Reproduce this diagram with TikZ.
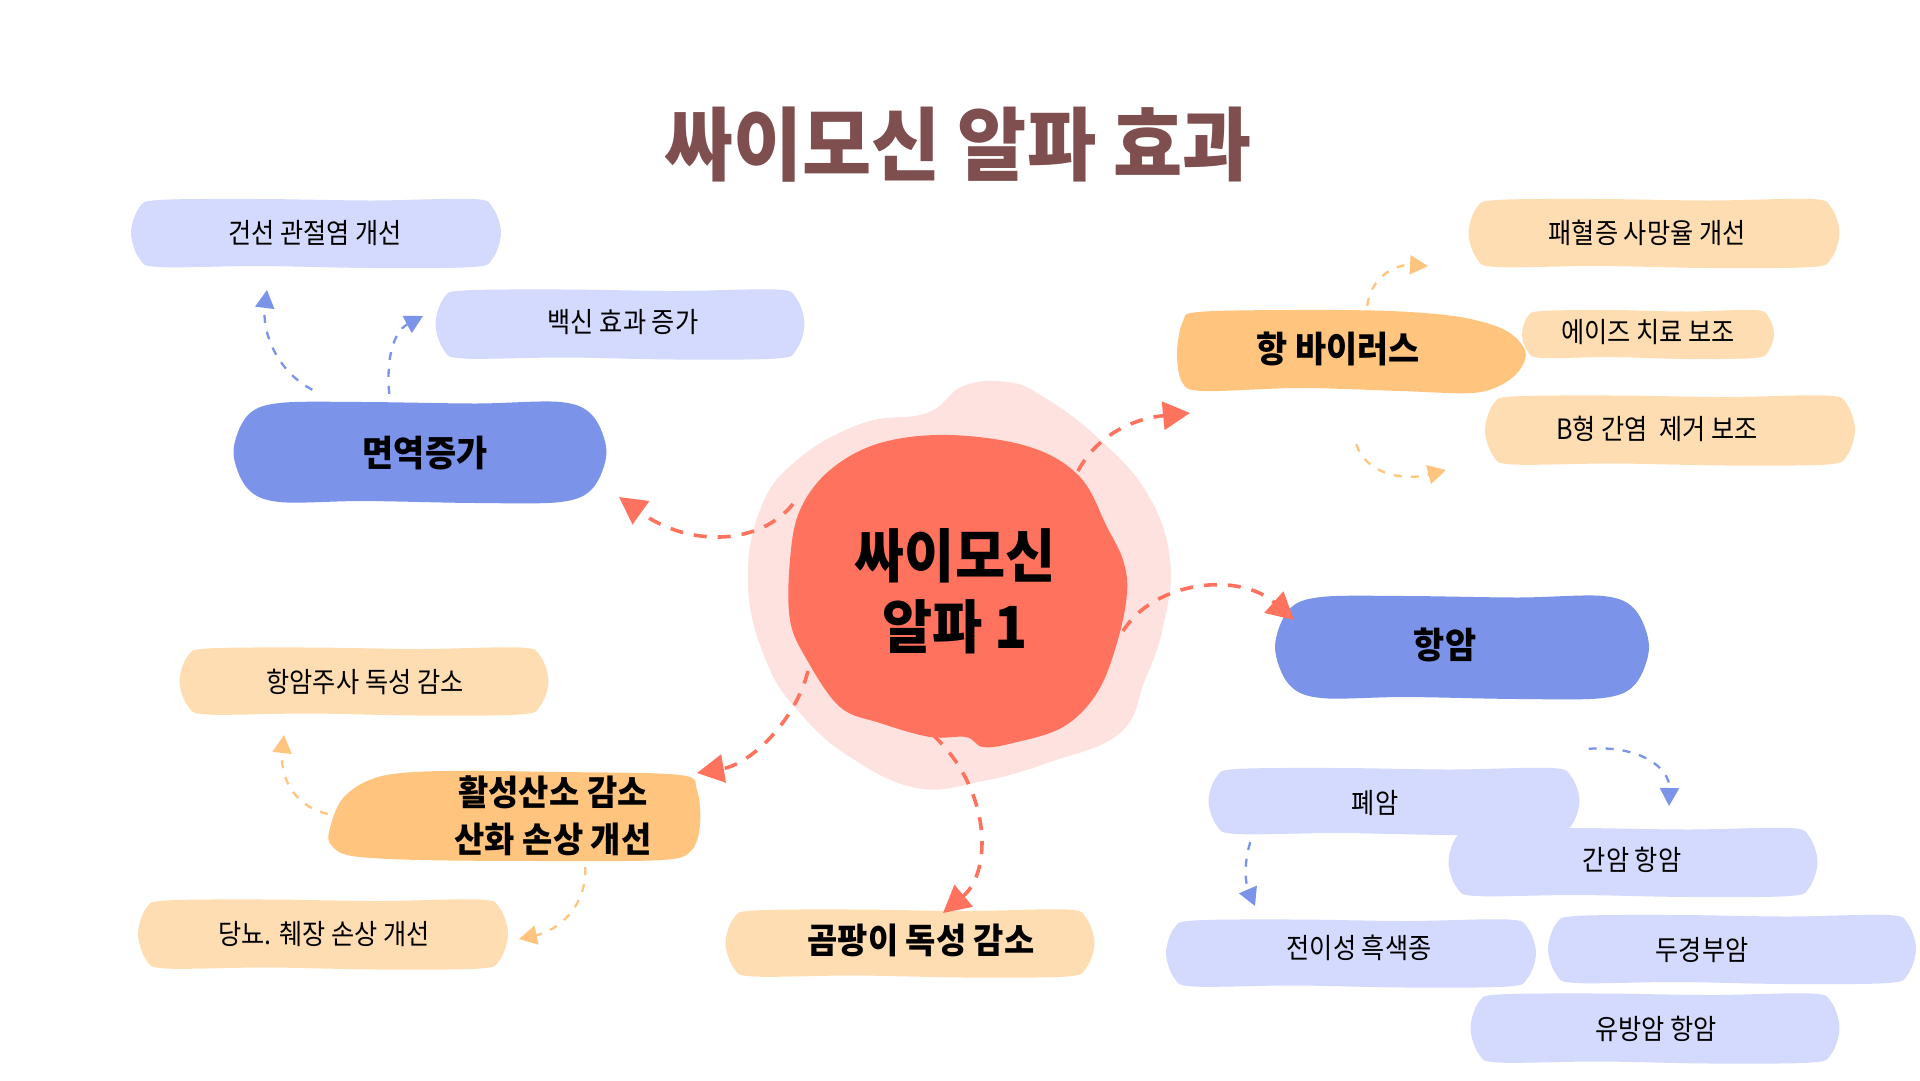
\documentclass[tikz,border=0pt]{standalone}
\usepackage{fontspec}
\usetikzlibrary{arrows.meta}
\newfontfamily\krR{Noto Sans CJK KR}[FakeStretch=0.9]
\newfontfamily\krB{Noto Sans CJK KR}[FakeStretch=0.94]
\definecolor{pale}{HTML}{FEE2DF}
\definecolor{coral}{HTML}{FF735E}
\definecolor{blueA}{HTML}{7B93E8}
\definecolor{lav}{HTML}{D3DAFD}
\definecolor{orng}{HTML}{FFC57E}
\definecolor{peach}{HTML}{FFDDB3}
\definecolor{titlec}{HTML}{7F4E4E}
% name, colour, cx, cy, w, h, corner
\newcommand\brushbox[7]{%
 \pgfmathsetmacro\bxL{#3-#5/2}\pgfmathsetmacro\bxR{#3+#5/2}%
 \pgfmathsetmacro\bxT{#4-#6/2}\pgfmathsetmacro\bxB{#4+#6/2}%
 \node[inner sep=0pt, minimum width=#5pt, minimum height=#6pt] (#1) at (#3,#4) {};
 \fill[#2] plot[smooth cycle, tension=0.55] coordinates {({\bxL+#7},{\bxT+1}) ({\bxL+0.35*#5},{\bxT}) ({\bxR-0.35*#5},{\bxT+1.5}) ({\bxR-#7},{\bxT}) ({\bxR-0.3*#7},{\bxT+0.3*#7}) (\bxR,#4) ({\bxR-0.3*#7},{\bxB-0.3*#7}) ({\bxR-#7},\bxB) ({\bxR-0.35*#5},{\bxB+1}) ({\bxL+0.35*#5},{\bxB-1}) ({\bxL+#7},\bxB) ({\bxL+0.3*#7},{\bxB-0.3*#7}) (\bxL,#4) ({\bxL+0.3*#7},{\bxT+0.3*#7})};
}
\begin{document}
\begin{tikzpicture}[x=1pt,y=-1pt,
  reg/.style={font=\krR\fontsize{28}{32}\selectfont, text=black},
  bld/.style={font=\krB\bfseries\fontsize{36}{47}\selectfont, text=black, align=center},
  sub/.style={dash pattern=on 8pt off 9pt, line width=2.3pt, -{Triangle[length=18pt,width=19pt]}},
  mainln/.style={draw=coral, dash pattern=on 13pt off 11pt, line width=3.6pt, -{Triangle[length=27pt,width=28pt]}}
]
\useasboundingbox (0,0) rectangle (1920,1080);
\fill[white] (0,0) rectangle (1920,1080);

% central blobs
\fill[pale] plot[smooth cycle, tension=0.7] coordinates {(927,413) (963,386) (1007,382) (1042,396) (1097,437) (1147,493) (1170,560) (1163,627) (1145,680) (1120,733) (1050,762) (983,781) (917,788) (850,757) (800,713) (767,663) (748,587) (760,510) (797,460) (863,423)};
\fill[coral] plot[smooth cycle, tension=0.6] coordinates {(950,435) (1030,447) (1080,477) (1107,527) (1123,560) (1127,593) (1117,643) (1097,693) (1063,727) (1013,743) (983,747) (966,737) (930,737) (880,723) (840,707) (807,660) (790,620) (790,560) (800,510) (830,470) (880,443)};

% title
\node[font=\krB\bfseries\fontsize{80}{90}\selectfont, text=titlec] (title) at (958,145) {싸이모신 알파 효과};

% boxes
\brushbox{psor}{lav}{316}{233}{370}{68}{28}
\brushbox{vacc}{lav}{620}{324}{369}{69}{28}
\brushbox{immune}{blueA}{420}{452}{373}{100}{46}

\node[inner sep=0pt, minimum width=351pt, minimum height=82pt] (antivir) at (1351,351) {};
\fill[orng] plot[smooth cycle, tension=0.55] coordinates {(1198,312) (1290,310) (1390,311) (1460,317) (1505,330) (1525,350) (1521,368) (1503,384) (1472,393) (1400,391) (1300,388) (1203,391) (1182,382) (1177,352) (1183,321)};
\brushbox{sepsis}{peach}{1654}{233}{371}{68}{28}
\brushbox{aids}{peach}{1648}{334}{252}{48}{20}
\brushbox{hepb}{peach}{1670}{430}{370}{69}{28}

\brushbox{cancer}{blueA}{1462}{647}{374}{102}{46}
\brushbox{lung}{lav}{1394}{801}{371}{66}{28}
\brushbox{liver}{lav}{1633}{862}{369}{68}{28}
\brushbox{melan}{lav}{1351}{953}{370}{67}{28}
\brushbox{headneck}{lav}{1732}{949}{368}{68}{28}
\brushbox{breast}{lav}{1655}{1028}{369}{69}{28}

\brushbox{chemo}{peach}{364}{681}{369}{67}{28}
\node[inner sep=0pt, minimum width=372pt, minimum height=90pt] (ros) at (514,816) {};
\fill[orng] plot[smooth cycle, tension=0.55] coordinates {(329,832) (343,798) (378,777) (440,771) (560,772) (680,775) (697,790) (700,825) (691,851) (662,860) (550,861) (420,860) (352,856) (332,846)};
\brushbox{diab}{peach}{323}{934}{370}{69}{28}
\brushbox{fungus}{peach}{910}{943}{369}{67}{28}

% named connector ends
\coordinate (c1) at (793,504);
\coordinate (c2) at (1078,471);
\coordinate (c3) at (1123,631);
\coordinate (c4) at (808,671);
\coordinate (c5) at (933,735);
\coordinate (e1) at (619,497);
\coordinate (e2) at (1190,413);
\coordinate (e3) at (1294,620);
\coordinate (e4) at (697,773);
\coordinate (e5) at (943,913);

% main connectors
\draw[mainln] (c1) .. controls (760,545) and (690,548) .. (e1);
\draw[mainln] (c2) .. controls (1100,430) and (1140,418) .. (e2);
\draw[mainln] (c3) .. controls (1155,580) and (1240,572) .. (e3);
\draw[mainln] (c4) .. controls (795,722) and (750,764) .. (e4);
\draw[mainln] (c5) .. controls (992,790) and (992,872) .. (e5);

% sub connectors: immune
\draw[sub, draw=blueA] (immune.north west) ++(79,-12) .. controls (275,370) and (262,330) .. (267,290);
\draw[sub, draw=blueA] (immune.north west) ++(156,-8) .. controls (386,360) and (393,332) .. (423,316);
% antiviral
\draw[sub, draw=orng] (antivir.north west) ++(192,-4) .. controls (1370,278) and (1395,264) .. (1428,266);
\draw[sub, draw=orng] (antivir.south west) ++(181,52) .. controls (1365,472) and (1400,482) .. (1446,470);
% cancer
\draw[sub, draw=blueA] (lung.north east) ++(9,-19) .. controls (1640,745) and (1670,768) .. (1669,806);
\draw[sub, draw=blueA] (lung.south west) ++(42,8) .. controls (1243,865) and (1246,885) .. (1255,906);
% ros
\draw[sub, draw=orng] (ros.west) ++(0,-2) .. controls (290,805) and (280,772) .. (284,735);
\draw[sub, draw=orng] (ros.south east) ++(-115,6) .. controls (587,905) and (560,930) .. (519,939);

% texts
\node[font=\krB\bfseries\fontsize{58}{71}\selectfont, align=center] (core) at (955,591) {싸이모신\\알파 1};
\node[reg] (tpsor) at (315,233) {건선 관절염 개선};
\node[reg] (tvacc) at (623,322) {백신 효과 증가};
\node[bld] (timm) at (425,453) {면역증가};
\node[bld] (tanti) at (1338,349) {항 바이러스};
\node[reg] (tseps) at (1647,233) {패혈증 사망율 개선};
\node[reg] (taids) at (1648,332) {에이즈 치료 보조};
\node[reg] (thepb) at (1657,429) {B형 간염\ \ 제거 보조};
\node[bld] (tcanc) at (1445,645) {항암};
\node[reg] (tlung) at (1375,803) {폐암};
\node[reg] (tliver) at (1632,860) {간암 항암};
\node[reg] (tmel) at (1359,948) {전이성 흑색종};
\node[reg] (thn) at (1702,950) {두경부암};
\node[reg] (tbr) at (1656,1029) {유방암 항암};
\node[reg] (tchemo) at (365,682) {항암주사 독성 감소};
\node[bld, font=\krB\bfseries\fontsize{35}{47}\selectfont] (tros) at (553,816) {활성산소 감소\\산화 손상 개선};
\node[reg] (tdiab) at (324,934) {당뇨. 췌장 손상 개선};
\node[font=\krB\bfseries\fontsize{35}{40}\selectfont] (tfung) at (921,940) {곰팡이 독성 감소};
\end{tikzpicture}
\end{document}
